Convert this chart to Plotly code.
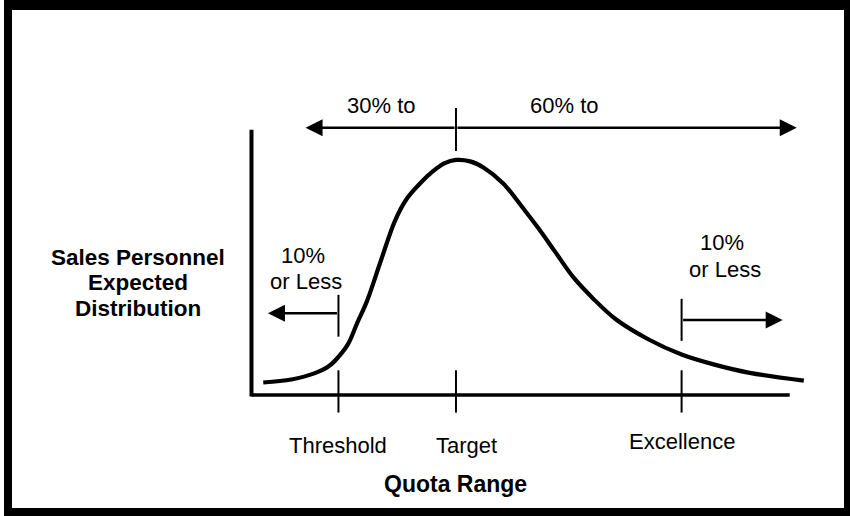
import plotly.graph_objects as go

# Expected share of sales personnel (peak = 100) along the quota range (% of quota)
quota = [18, 30, 40, 46, 50, 54, 58, 62, 68, 74, 79, 85, 90, 95, 100,
         106, 112, 120, 128, 135, 142, 150, 158, 168, 182, 196, 210, 225, 248]
share = [5.3, 6.6, 9.3, 12.3, 16.2, 21.5, 30.7, 39.6, 57.0, 74.0, 83.4, 90.3, 95.0, 98.5, 100,
         99.4, 96.6, 90.1, 80.2, 71.0, 61.2, 50.0, 41.4, 32.2, 23.6, 17.2, 12.9, 9.4, 6.1]

# Quota milestones marked on the horizontal axis
milestone_labels = ["Threshold", "Target", "Excellence"]
milestone_quota = [50, 100, 196]

# Population bands and where their arrows end
band_top_labels = ["30% to", "60% to"]
band_top_label_x = [68.4, 146.1]
band_top_span = [36, 245]
band_low_tip = 20
band_high_tip = 239
band_side_labels = ["10%", "or Less"]

# Drawing extents in data units
X_RANGE = [-88.9, 265.1]
Y_RANGE = [-48.1, 163.8]
AXIS_X = [13, 242]
AXIS_Y_TOP = 112.8

FONT = "Liberation Sans, Arial, Helvetica, sans-serif"
INK = "black"

fig = go.Figure()

fig.add_trace(go.Scatter(
    x=quota, y=share, mode="lines",
    line=dict(color=INK, width=4.2, shape="spline", smoothing=1.0),
    hoverinfo="skip", showlegend=False,
))

# axis lines
fig.add_shape(type="line", xref="x", yref="y", x0=AXIS_X[0], x1=AXIS_X[1], y0=0, y1=0,
              line=dict(color=INK, width=3.5))
fig.add_shape(type="line", xref="x", yref="y", x0=AXIS_X[0], x1=AXIS_X[0], y0=-0.7, y1=AXIS_Y_TOP,
              line=dict(color=INK, width=4))

# milestone ticks below the curve
for q in milestone_quota:
    fig.add_shape(type="line", xref="x", yref="y", x0=q, x1=q, y0=-7.5, y1=10.5,
                  line=dict(color=INK, width=2))


def arrow(x_tip, x_tail, y):
    fig.add_annotation(
        x=x_tip, y=y, ax=x_tail, ay=y, xref="x", yref="y", axref="x", ayref="y",
        text="", showarrow=True, arrowhead=2, arrowsize=1.36, arrowwidth=2.5,
        arrowcolor=INK, standoff=0, startstandoff=0,
    )


def bar(x, y0, y1):
    fig.add_shape(type="line", xref="x", yref="y", x0=x, x1=x, y0=y0, y1=y1,
                  line=dict(color=INK, width=2))


# top band split at Target
top_y = 113.7
arrow(band_top_span[0], milestone_quota[1], top_y)
arrow(band_top_span[1], milestone_quota[1], top_y)
bar(milestone_quota[1], 103.8, 122.1)

# lower band below Threshold
low_y = 34.8
arrow(band_low_tip, milestone_quota[0], low_y)
bar(milestone_quota[0], 24.8, 42.6)

# upper band above Excellence
high_y = 31.9
arrow(band_high_tip, milestone_quota[2], high_y)
bar(milestone_quota[2], 23.0, 40.9)


def text(s, x, y, size=22, bold=False, xshift=0, yshift=0):
    fig.add_annotation(
        x=x, y=y, xref="x", yref="y", text=f"<b>{s}</b>" if bold else s,
        showarrow=False, xanchor="center", yanchor="middle",
        xshift=xshift, yshift=yshift,
        font=dict(family=FONT, size=size, color=INK),
    )


for s, x in zip(band_top_labels, band_top_label_x):
    text(s, x, 123.2)

text(band_side_labels[0], 35.0, 59.2)
text(band_side_labels[1], 36.0, 48.4)
text(band_side_labels[0], 213.2, 64.8)
text(band_side_labels[1], 214.3, 53.3)

for s, y in zip(["Sales Personnel", "Expected", "Distribution"], [58.5, 47.7, 36.9]):
    text(s, -35.4, y, size=22.5, bold=True)

label_shift = {"Target": (11, 0), "Excellence": (0, 4.6)}
for s, q in zip(milestone_labels, milestone_quota):
    dx, dy = label_shift.get(s, (0, 0))
    text(s, q, -21.6, xshift=dx, yshift=dy)

text("Quota Range", milestone_quota[1], -37.9, size=23, bold=True)

# white strip at the far left edge outside the frame
fig.add_shape(type="rect", xref="paper", yref="paper",
              x0=-12 / 832, x1=-8 / 832, y0=-0.05, y1=1.05,
              fillcolor="white", line=dict(width=0), layer="above")

fig.update_layout(
    width=850, height=516,
    margin=dict(l=12, r=6, t=10, b=8, pad=0),
    paper_bgcolor=INK, plot_bgcolor="white",
    xaxis=dict(range=X_RANGE, visible=False, fixedrange=True),
    yaxis=dict(range=Y_RANGE, visible=False, fixedrange=True),
    showlegend=False,
)

fig.write_html("out.html", config={"displayModeBar": False})
